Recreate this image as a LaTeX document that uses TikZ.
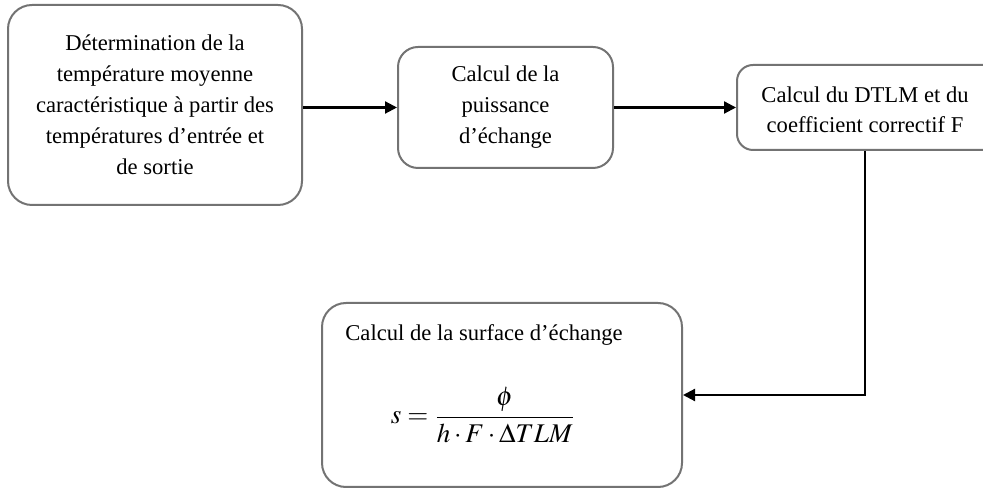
\documentclass[tikz,border=0pt]{standalone}
\usepackage{mathptmx}
\usepackage[no-math]{fontspec}
\setmainfont{Liberation Serif}
\usetikzlibrary{arrows.meta}
\begin{document}
\begin{tikzpicture}[x=0.5pt,y=-0.5pt,
    etape/.style={draw=black!55,line width=1pt,rounded corners=12pt,align=center,
                  font=\fontsize{11.3}{15.5}\selectfont,inner sep=0pt},
    fleche/.style={line width=1.1pt,-{Triangle[length=6pt,width=6pt]}}]
                \useasboundingbox (0,0) rectangle (983,490);
                \node[etape,minimum width=147pt,minimum height=100pt] (temp) at (155,105)
                    {D\'etermination de la\\temp\'erature moyenne\\caract\'eristique \`a partir des\\temp\'eratures d'entr\'ee et\\de sortie};
                \node[etape,minimum width=107.5pt,minimum height=60.5pt,rounded corners=10pt] (puis) at (505.5,107.5)
                    {Calcul de la\\puissance\\d'\'echange};
                \node[etape,minimum width=134pt,minimum height=42.5pt,rounded corners=8pt] (dtlm) at (871,107.5) {};
                \node[align=center,font=\fontsize{11.3}{15}\selectfont] at (865,110) {Calcul du DTLM et du\\coefficient correctif F};
                \node[etape,minimum width=180pt,minimum height=92pt] (surf) at (502,395) {};
                \node[anchor=west,inner sep=0pt,font=\fontsize{11.3}{15.5}\selectfont] (titre) at (345,335) {Calcul de la surface d'\'echange};
                \node[font=\fontsize{13.5}{15}\selectfont] (form) at (483,415) {$\displaystyle s=\frac{\phi}{h\cdot F\cdot\Delta TLM}$};
                \draw[fleche] (temp.east |- puis.west) -- (puis.west);
                \draw[fleche] (puis.east) -- (dtlm.west);
                \draw[fleche] ([xshift=-3pt]dtlm.south) -- ([xshift=-3pt]dtlm.south |- surf.east) -- (surf.east);
            \end{tikzpicture}
\end{document}
